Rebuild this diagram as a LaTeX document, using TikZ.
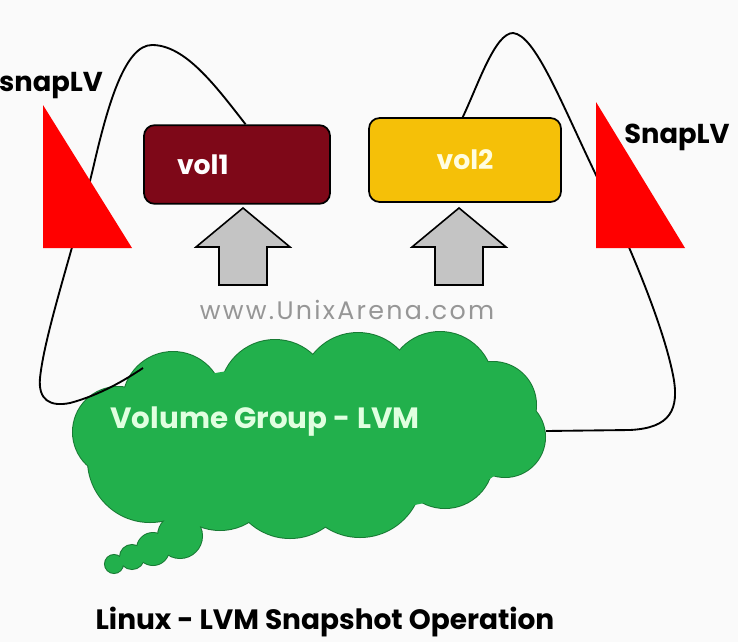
\documentclass[tikz,border=0pt]{standalone}
\usepackage{fontspec}
\setmainfont{Poppins}
\definecolor{volred}{RGB}{126,8,24}
\definecolor{volgold}{RGB}{245,192,8}
\definecolor{vggreen}{RGB}{34,176,76}
\definecolor{vgedge}{RGB}{24,122,52}
\definecolor{arrgray}{RGB}{196,196,196}
\definecolor{webgray}{RGB}{150,150,150}
\definecolor{bgwhite}{RGB}{250,250,250}
\tikzset{
  volbox/.style={draw=black, line width=1.3pt, rounded corners=8pt,
    minimum width=139pt, minimum height=59pt, inner sep=0pt,
    font=\fontsize{20}{22}\selectfont\bfseries},
  wire/.style={black, line width=1.4pt},
  uparrow/.style={draw=black, fill=arrgray, line width=1.2pt, line join=miter},
  snaptext/.style={font=\fontsize{20.5}{22}\selectfont\bfseries}
}
\begin{document}
\begin{tikzpicture}[x=0.75pt,y=-0.75pt]
  \useasboundingbox (0,0) rectangle (738,642);
  \fill[bgwhite] (0,0) rectangle (738,642);
  % volume group cloud
  \foreach \cx/\cy/\r in {173/402/50, 275/395/55, 358/390/57, 440/385/53,
      493/405/43, 505/437/40, 445/460/48, 360/475/62, 290/478/60, 220/475/55,
      150/460/62, 118/432/45, 180/536/22, 153/549/16, 132/557/12, 114/564/9}
    \draw[vgedge, line width=1.5pt] (\cx,\cy) circle (\r);
  \foreach \cx/\cy/\r in {173/402/50, 275/395/55, 358/390/57, 440/385/53,
      493/405/43, 505/437/40, 445/460/48, 360/475/62, 290/478/60, 220/475/55,
      150/460/62, 118/432/45, 180/536/22, 153/549/16, 132/557/12, 114/564/9}
    \fill[vggreen] (\cx,\cy) circle (\r);
  \fill[vggreen] (310,440) ellipse [x radius=210, y radius=75];
  \node[text=white!88!green, font=\fontsize{22}{24}\selectfont\bfseries] (vg) at (265,422) {Volume Group - LVM};
  \coordinate (vgL) at (143,368);
  \coordinate (vgR) at (546,431);

  % logical volumes
  \node[volbox, fill=volred, text=white, text width=90pt, inner xsep=24.75pt, align=left] (vol1) at (237,164.5) {vol1};
  \node[volbox, fill=volgold, text=yellow!12!white, align=center,
    minimum width=144pt, minimum height=63pt] (vol2) at (465,160) {vol2};

  % snapshot lines
  \draw[wire] (vol1.78) .. controls (215,85) and (185,45) .. (152,45)
    .. controls (125,45) and (108,105) .. (95,160)
    .. controls (78,235) and (45,330) .. (40,378)
    .. controls (38,400) and (50,407) .. (70,403)
    .. controls (100,395) and (125,380) .. (vgL);
  \draw[wire] (vol2.93) .. controls (478,85) and (495,33) .. (513,33)
    .. controls (535,35) and (560,100) .. (596,175)
    .. controls (625,235) and (662,320) .. (673,375)
    .. controls (680,410) and (670,428) .. (630,430) -- (vgR);

  % snapshot volumes
  \fill[red] (43,105) -- (43,248) -- (132,248) -- cycle;
  \fill[red] (596,102) -- (596,248) -- (685,248) -- cycle;
  \node[snaptext] (snap1) at (51,86) {snapLV};
  \node[snaptext] (snap2) at (677,137) {SnapLV};

  % arrows
  \foreach \ax in {243,459}
    \draw[uparrow] (\ax,208) -- ++(47,39) -- ++(-23,0) -- ++(0,38) -- ++(-48,0) -- ++(0,-38) -- ++(-23,0) -- cycle;

  \node[text=webgray, font=\fontsize{19}{20}\selectfont\addfontfeatures{LetterSpace=9}] (web) at (347,310) {www.UnixArena.com};
  \node[font=\fontsize{21}{24}\selectfont\bfseries] (title) at (325,622) {Linux - LVM Snapshot Operation};
\end{tikzpicture}
\end{document}
